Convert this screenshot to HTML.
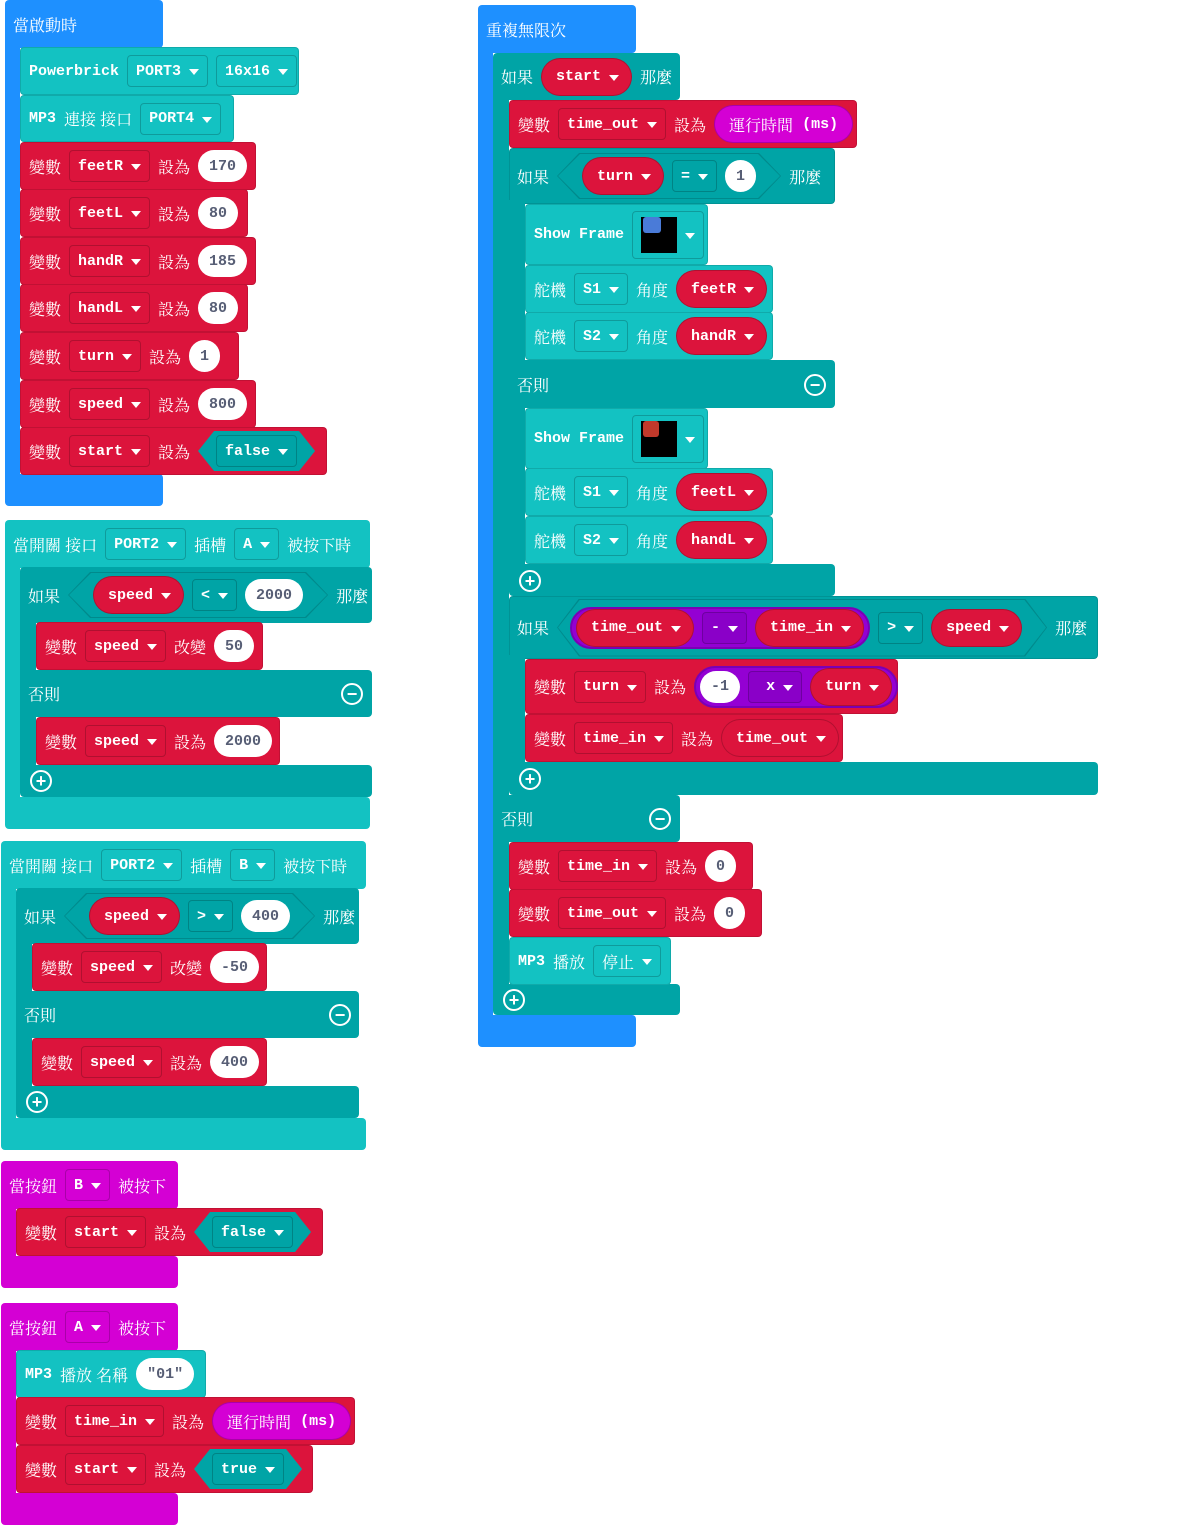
<!DOCTYPE html>
<html><head><meta charset="utf-8"><style>
body{margin:0;width:1200px;height:1525px;background:#fff;position:relative;overflow:hidden}
.s{position:absolute;border-radius:4px}
.r{position:absolute;display:flex;align-items:center;gap:8px;padding-left:8px;box-sizing:border-box;border-radius:4px;color:#fff;font:bold 15px "Liberation Mono",monospace;white-space:nowrap;border:1px solid rgba(0,0,0,.12)}
.z{font-family:"Noto Serif CJK SC","Noto Serif CJK TC",serif;font-weight:normal;font-size:16px}
.dd{display:inline-flex;align-items:center;height:32px;padding:0 8px;border:1px solid rgba(0,0,0,.2);border-radius:4px;box-sizing:border-box}
.dd::after,.p::after{content:"";border-left:5px solid transparent;border-right:5px solid transparent;border-top:6px solid #fff;margin:2px 0 0 8px}
.p{display:inline-flex;align-items:center;height:38px;padding:0 12px 0 14px;border:1px solid rgba(0,0,0,.2);border-radius:19px;box-sizing:border-box;background:#dc143c}
.pn{display:inline-flex;align-items:center;height:38px;padding:0 14px;border-radius:19px;background:#d400d4;border:1px solid rgba(0,0,0,.2);box-sizing:border-box}
.n{display:inline-flex;align-items:center;height:32px;padding:0 11px;border-radius:16px;background:#fff;color:#575e75}
.hx{display:inline-flex;align-items:center;height:40px;padding:0 18px;background:#00a4a6;clip-path:polygon(16px 0,calc(100% - 16px) 0,100% 50%,calc(100% - 16px) 100%,16px 100%,0 50%)}
.ho{display:inline-flex;padding:1px;background:#008a8c;clip-path:polygon(22px 0,calc(100% - 22px) 0,100% 50%,calc(100% - 22px) 100%,22px 100%,0 50%)}
.hi{display:inline-flex;align-items:center;gap:8px;height:44px;padding:0 24px;background:#00a4a6;clip-path:polygon(22px 0,calc(100% - 22px) 0,100% 50%,calc(100% - 22px) 100%,22px 100%,0 50%)}
.pu{display:inline-flex;align-items:center;gap:8px;height:42px;padding:0 4px;border-radius:21px;background:#9400d3;border:2px solid #7a00b5;box-sizing:border-box}
.pu .dd{background:#8a00c8}
.ic{position:absolute;width:18px;height:18px;border:2px solid #fff;border-radius:50%;color:#fff;font:bold 18px/18px "Liberation Sans",sans-serif;text-align:center}
.B{background:#1e90ff}.T{background:#13c2c2}.D{background:#00a4a6}.R{background:#dc143c}.M{background:#d400d4}
.img{display:inline-block;width:36px;height:36px;background:#000;position:relative}
</style></head><body>

<!-- Block 1 -->
<div class="s B" style="left:5px;top:0;width:158px;height:48px"></div>
<div class="s B" style="left:5px;top:40px;width:15px;height:440px;border-radius:0"></div>
<div class="s B" style="left:5px;top:474px;width:158px;height:32px"></div>
<div class="r z" style="left:5px;top:0;height:48px;border:none;background:none">當啟動時</div>
<div class="r T" style="left:20px;top:47px;width:279px;height:48px">Powerbrick<span class="dd">PORT3</span><span class="dd">16x16</span></div>
<div class="r T" style="left:20px;top:95px;width:214px;height:47px">MP3 <span class="z">連接 接口</span><span class="dd">PORT4</span></div>
<div class="r R" style="left:20px;top:142px;width:236px;height:48px"><span class="z">變數</span><span class="dd">feetR</span><span class="z">設為</span><span class="n">170</span></div>
<div class="r R" style="left:20px;top:189px;width:228px;height:48px"><span class="z">變數</span><span class="dd">feetL</span><span class="z">設為</span><span class="n">80</span></div>
<div class="r R" style="left:20px;top:237px;width:236px;height:48px"><span class="z">變數</span><span class="dd">handR</span><span class="z">設為</span><span class="n">185</span></div>
<div class="r R" style="left:20px;top:284px;width:228px;height:48px"><span class="z">變數</span><span class="dd">handL</span><span class="z">設為</span><span class="n">80</span></div>
<div class="r R" style="left:20px;top:332px;width:219px;height:48px"><span class="z">變數</span><span class="dd">turn</span><span class="z">設為</span><span class="n">1</span></div>
<div class="r R" style="left:20px;top:380px;width:236px;height:48px"><span class="z">變數</span><span class="dd">speed</span><span class="z">設為</span><span class="n">800</span></div>
<div class="r R" style="left:20px;top:427px;width:307px;height:48px"><span class="z">變數</span><span class="dd">start</span><span class="z">設為</span><span class="hx"><span class="dd">false</span></span></div>

<!-- Block 2 -->
<div class="s T" style="left:5px;top:520px;width:365px;height:48px"></div>
<div class="s T" style="left:5px;top:560px;width:15px;height:250px;border-radius:0"></div>
<div class="s T" style="left:5px;top:797px;width:365px;height:32px"></div>
<div class="r" style="left:5px;top:520px;height:48px;border:none"><span class="z">當開關 接口</span><span class="dd">PORT2</span><span class="z">插槽</span><span class="dd">A</span><span class="z">被按下時</span></div>
<div class="s D" style="left:20px;top:567px;width:352px;height:56px"></div>
<div class="s D" style="left:20px;top:615px;width:16px;height:170px;border-radius:0"></div>
<div class="s D" style="left:20px;top:670px;width:352px;height:47px"></div>
<div class="s D" style="left:20px;top:765px;width:352px;height:32px"></div>
<div class="r" style="left:20px;top:567px;width:352px;height:56px;border:none"><span class="z">如果</span><span class="ho"><span class="hi"><span class="p">speed</span><span class="dd">&lt;</span><span class="n">2000</span></span></span><span class="z">那麼</span></div>
<div class="r R" style="left:36px;top:622px;width:227px;height:48px"><span class="z">變數</span><span class="dd">speed</span><span class="z">改變</span><span class="n">50</span></div>
<div class="r z" style="left:20px;top:670px;height:47px;border:none">否則</div>
<div class="ic" style="left:341px;top:683px">−</div>
<div class="r R" style="left:36px;top:717px;width:244px;height:48px"><span class="z">變數</span><span class="dd">speed</span><span class="z">設為</span><span class="n">2000</span></div>
<div class="ic" style="left:30px;top:770px">+</div>

<!-- Block 3 -->
<div class="s T" style="left:1px;top:841px;width:365px;height:48px"></div>
<div class="s T" style="left:1px;top:880px;width:15px;height:250px;border-radius:0"></div>
<div class="s T" style="left:1px;top:1118px;width:365px;height:32px"></div>
<div class="r" style="left:1px;top:841px;height:48px;border:none"><span class="z">當開關 接口</span><span class="dd">PORT2</span><span class="z">插槽</span><span class="dd">B</span><span class="z">被按下時</span></div>
<div class="s D" style="left:16px;top:888px;width:343px;height:56px"></div>
<div class="s D" style="left:16px;top:936px;width:16px;height:170px;border-radius:0"></div>
<div class="s D" style="left:16px;top:991px;width:343px;height:47px"></div>
<div class="s D" style="left:16px;top:1086px;width:343px;height:32px"></div>
<div class="r" style="left:16px;top:888px;width:343px;height:56px;border:none"><span class="z">如果</span><span class="ho"><span class="hi"><span class="p">speed</span><span class="dd">&gt;</span><span class="n">400</span></span></span><span class="z">那麼</span></div>
<div class="r R" style="left:32px;top:943px;width:235px;height:48px"><span class="z">變數</span><span class="dd">speed</span><span class="z">改變</span><span class="n">-50</span></div>
<div class="r z" style="left:16px;top:991px;height:47px;border:none">否則</div>
<div class="ic" style="left:329px;top:1004px">−</div>
<div class="r R" style="left:32px;top:1038px;width:235px;height:48px"><span class="z">變數</span><span class="dd">speed</span><span class="z">設為</span><span class="n">400</span></div>
<div class="ic" style="left:26px;top:1091px">+</div>

<!-- Block 4 -->
<div class="s M" style="left:1px;top:1161px;width:177px;height:48px"></div>
<div class="s M" style="left:1px;top:1200px;width:15px;height:70px;border-radius:0"></div>
<div class="s M" style="left:1px;top:1256px;width:177px;height:32px"></div>
<div class="r" style="left:1px;top:1161px;height:48px;border:none"><span class="z">當按鈕</span><span class="dd">B</span><span class="z">被按下</span></div>
<div class="r R" style="left:16px;top:1208px;width:307px;height:48px"><span class="z">變數</span><span class="dd">start</span><span class="z">設為</span><span class="hx"><span class="dd">false</span></span></div>

<!-- Block 5 -->
<div class="s M" style="left:1px;top:1303px;width:177px;height:48px"></div>
<div class="s M" style="left:1px;top:1340px;width:15px;height:170px;border-radius:0"></div>
<div class="s M" style="left:1px;top:1493px;width:177px;height:32px"></div>
<div class="r" style="left:1px;top:1303px;height:48px;border:none"><span class="z">當按鈕</span><span class="dd">A</span><span class="z">被按下</span></div>
<div class="r T" style="left:16px;top:1350px;width:190px;height:48px">MP3 <span class="z">播放 名稱</span><span class="n">"01"</span></div>
<div class="r R" style="left:16px;top:1397px;width:339px;height:48px"><span class="z">變數</span><span class="dd">time_in</span><span class="z">設為</span><span class="pn"><span class="z">運行時間</span>&nbsp;(ms)</span></div>
<div class="r R" style="left:16px;top:1445px;width:297px;height:48px"><span class="z">變數</span><span class="dd">start</span><span class="z">設為</span><span class="hx"><span class="dd">true</span></span></div>

<!-- Right block -->
<div class="s B" style="left:478px;top:5px;width:158px;height:48px"></div>
<div class="s B" style="left:478px;top:45px;width:15px;height:985px;border-radius:0"></div>
<div class="s B" style="left:478px;top:1015px;width:158px;height:32px"></div>
<div class="r z" style="left:478px;top:5px;height:48px;border:none">重複無限次</div>

<div class="s D" style="left:493px;top:53px;width:187px;height:47px"></div>
<div class="s D" style="left:493px;top:95px;width:16px;height:910px;border-radius:0"></div>
<div class="s D" style="left:493px;top:795px;width:187px;height:47px"></div>
<div class="s D" style="left:493px;top:984px;width:187px;height:31px"></div>
<div class="r" style="left:493px;top:53px;height:47px;border:none"><span class="z">如果</span><span class="p">start</span><span class="z">那麼</span></div>
<div class="r R" style="left:509px;top:100px;width:348px;height:48px"><span class="z">變數</span><span class="dd">time_out</span><span class="z">設為</span><span class="pn"><span class="z">運行時間</span>&nbsp;(ms)</span></div>

<div class="s D" style="left:509px;top:148px;width:326px;height:56px;border:1px solid rgba(0,0,0,.1);box-sizing:border-box"></div>
<div class="s D" style="left:509px;top:200px;width:16px;height:380px;border-radius:0"></div>
<div class="s D" style="left:509px;top:360px;width:326px;height:48px"></div>
<div class="s D" style="left:509px;top:564px;width:326px;height:32px"></div>
<div class="r" style="left:509px;top:148px;height:56px;border:none"><span class="z">如果</span><span class="ho"><span class="hi"><span class="p">turn</span><span class="dd">=</span><span class="n">1</span></span></span><span class="z">那麼</span></div>
<div class="r T" style="left:525px;top:204px;width:183px;height:61px">Show Frame<span class="dd" style="height:48px"><span class="img"><span style="position:absolute;left:2px;top:0;width:18px;height:16px;background:#4a7bd8;border-radius:3px"></span></span></span></div>
<div class="r T" style="left:525px;top:265px;width:248px;height:48px"><span class="z">舵機</span><span class="dd">S1</span><span class="z">角度</span><span class="p">feetR</span></div>
<div class="r T" style="left:525px;top:312px;width:248px;height:48px"><span class="z">舵機</span><span class="dd">S2</span><span class="z">角度</span><span class="p">handR</span></div>
<div class="r z" style="left:509px;top:360px;height:48px;border:none">否則</div>
<div class="ic" style="left:804px;top:374px">−</div>
<div class="r T" style="left:525px;top:408px;width:183px;height:61px">Show Frame<span class="dd" style="height:48px"><span class="img"><span style="position:absolute;left:2px;top:0;width:16px;height:16px;background:#c0392b;border-radius:3px"></span></span></span></div>
<div class="r T" style="left:525px;top:468px;width:248px;height:48px"><span class="z">舵機</span><span class="dd">S1</span><span class="z">角度</span><span class="p">feetL</span></div>
<div class="r T" style="left:525px;top:516px;width:248px;height:48px"><span class="z">舵機</span><span class="dd">S2</span><span class="z">角度</span><span class="p">handL</span></div>
<div class="ic" style="left:519px;top:570px">+</div>

<div class="s D" style="left:509px;top:596px;width:589px;height:63px;border:1px solid rgba(0,0,0,.1);box-sizing:border-box"></div>
<div class="s D" style="left:509px;top:655px;width:16px;height:120px;border-radius:0"></div>
<div class="s D" style="left:509px;top:762px;width:589px;height:33px"></div>
<div class="r" style="left:509px;top:596px;width:589px;height:63px;border:none"><span class="z">如果</span><span class="ho"><span class="hi" style="height:56px;padding:0 24px 0 12px"><span class="pu"><span class="p">time_out</span><span class="dd">-</span><span class="p">time_in</span></span><span class="dd">&gt;</span><span class="p">speed</span></span></span><span class="z">那麼</span></div>
<div class="r R" style="left:525px;top:659px;width:373px;height:55px"><span class="z">變數</span><span class="dd">turn</span><span class="z">設為</span><span class="pu"><span class="n">-1</span><span class="dd">&nbsp;x</span><span class="p">turn</span></span></div>
<div class="r R" style="left:525px;top:714px;width:318px;height:48px"><span class="z">變數</span><span class="dd">time_in</span><span class="z">設為</span><span class="p">time_out</span></div>
<div class="ic" style="left:519px;top:768px">+</div>

<div class="r z" style="left:493px;top:795px;height:47px;border:none">否則</div>
<div class="ic" style="left:649px;top:808px">−</div>
<div class="r R" style="left:509px;top:842px;width:244px;height:48px"><span class="z">變數</span><span class="dd">time_in</span><span class="z">設為</span><span class="n">0</span></div>
<div class="r R" style="left:509px;top:889px;width:253px;height:48px"><span class="z">變數</span><span class="dd">time_out</span><span class="z">設為</span><span class="n">0</span></div>
<div class="r T" style="left:509px;top:937px;width:162px;height:48px">MP3 <span class="z">播放</span><span class="dd z">停止</span></div>
<div class="ic" style="left:503px;top:989px">+</div>

</body></html>
